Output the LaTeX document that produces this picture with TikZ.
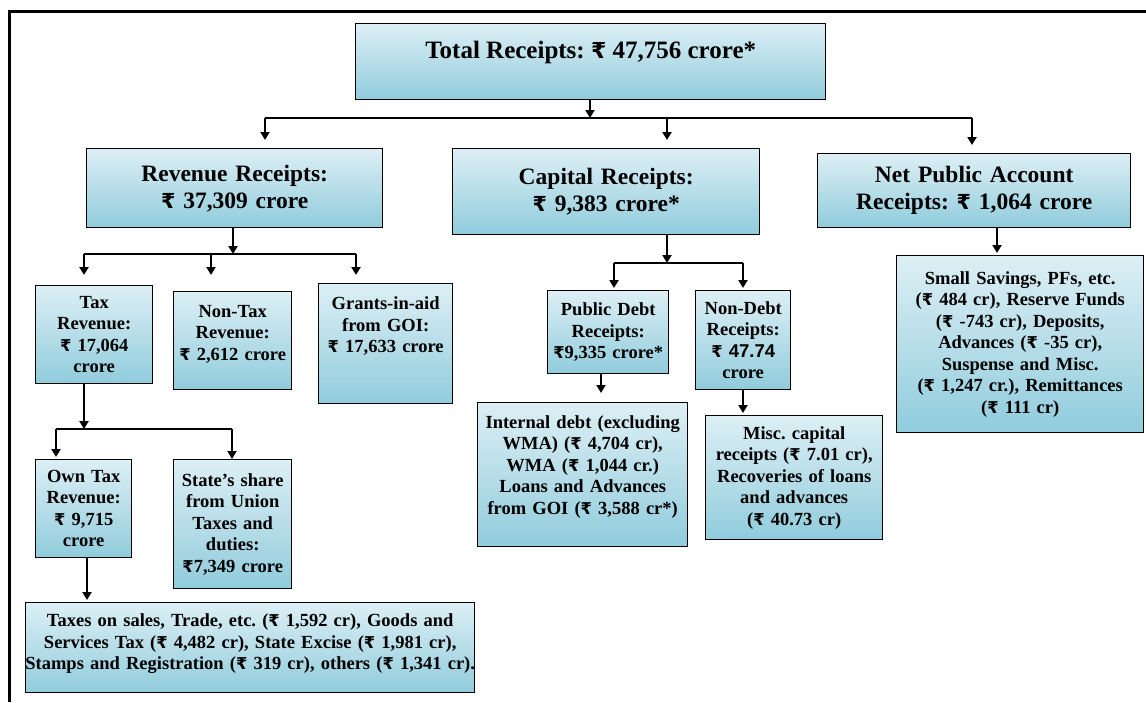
\documentclass[tikz,border=0pt]{standalone}
\usepackage{fontspec}
\setmainfont{Liberation Serif}
\setsansfont{Liberation Sans}
\newfontfamily\rupfont[Scale=0.88]{DejaVu Sans}
\newcommand{\rup}{{\rupfont ₹}}
\frenchspacing
\usetikzlibrary{arrows.meta}
\definecolor{boxtop}{RGB}{221,239,245}
\definecolor{boxbot}{RGB}{144,204,220}
\begin{document}
\begin{tikzpicture}[x=1pt, y=-1pt,
    box/.style={draw=black, line width=1.4pt, top color=boxtop, bottom color=boxbot,
        anchor=north west, inner xsep=1pt, inner ysep=0pt, align=center},
    big/.style={font=\fontsize{23.5}{27}\selectfont\bfseries},
    small/.style={font=\fontsize{18.5}{21.5}\selectfont\bfseries},
    arr/.style={line width=2pt, -{Triangle[width=9pt,length=8pt]}},
    bar/.style={line width=2pt}]
        \useasboundingbox (0,0) rectangle (1146,702);
        \draw[line width=3pt] (9,702) -- (9,11) -- (1146,11);

        % top level
        \node[box, minimum width=470pt, minimum height=76pt, text depth=23.5pt,
            font=\fontsize{25}{29}\selectfont\bfseries] (total) at (355,23) {Total Receipts: \rup{} 47,756 crore*};
        \node[box, big, minimum width=296pt, minimum height=79pt, text width=294pt] (rev) at (86,148) {Revenue Receipts:\\ \rup{} 37,309 crore};
        \node[box, big, minimum width=307pt, minimum height=86pt, text width=305pt] (cap) at (452,148) {Capital Receipts:\\ \rup{} 9,383 crore*};
        \node[box, big, minimum width=313pt, minimum height=74pt, text width=311pt] (net) at (817,153) {Net Public Account\\ Receipts: \rup{} 1,064 crore};

        % revenue side
        \node[box, small, minimum width=117pt, minimum height=98pt, text width=115pt] (tax) at (35,285) {Tax\\ Revenue:\\ \rup{} 17,064\\ crore};
        \node[box, small, minimum width=118pt, minimum height=98pt, text width=116pt, text depth=59pt] (nontax) at (173,291) {Non-Tax\\ Revenue:\\ \rup{} 2,612 crore};
        \node[box, small, minimum width=134pt, minimum height=120pt, text width=132pt, text depth=81pt] (grants) at (318,283) {Grants-in-aid\\ from GOI:\\ \rup{} 17,633 crore};
        \node[box, small, minimum width=96pt, minimum height=98pt, text width=94pt] (own) at (35,459) {Own Tax\\ Revenue:\\ \rup{} 9,715\\ crore};
        \node[box, small, minimum width=118pt, minimum height=129pt, text width=116pt] (share) at (173,459) {State’s share\\ from Union\\ Taxes and\\ duties:\\ \rup7,349 crore};
        \node[box, small, minimum width=449pt, minimum height=90pt, inner xsep=-6pt, text width=461pt, text depth=55pt] (taxes) at (25,602) {Taxes on sales, Trade, etc. (\rup{} 1,592 cr), Goods and\\ Services Tax (\rup{} 4,482 cr), State Excise (\rup{} 1,981 cr),\\ Stamps and Registration (\rup{} 319 cr), others (\rup{} 1,341 cr).};

        % capital side
        \node[box, small, minimum width=121pt, minimum height=83pt, text width=119pt] (pdebt) at (547,290) {Public Debt\\ Receipts:\\ \rup9,335 crore*};
        \node[box, small, minimum width=95pt, minimum height=99pt, text width=93pt] (ndebt) at (695,290) {Non-Debt\\ Receipts:\\ {\sffamily\rup{} 47.74}\\ crore};
        \node[box, small, minimum width=210pt, minimum height=144pt, text width=208pt, text depth=106pt] (internal) at (477,402) {Internal debt (excluding\\ WMA) (\rup{} 4,704 cr),\\ WMA (\rup{} 1,044 cr.)\\ Loans and Advances\\ from GOI (\rup{} 3,588 cr*)};
        \node[box, small, minimum width=177pt, minimum height=124pt, text width=175pt] (misc) at (705,415) {Misc. capital\\ receipts (\rup{} 7.01 cr),\\ Recoveries of loans\\ and advances\\ (\rup{} 40.73 cr)};

        % public account
        \node[box, small, minimum width=247pt, minimum height=177pt, text width=245pt] (netdet) at (896,255) {Small Savings, PFs, etc.\\ (\rup{} 484 cr), Reserve Funds\\ (\rup{} -743 cr), Deposits,\\ Advances (\rup{} -35 cr),\\ Suspense and Misc.\\ (\rup{} 1,247 cr.), Remittances\\ (\rup{} 111 cr)};

        % junctions
        \coordinate (j0) at (590,118);
        \coordinate (j0a) at (265,118);
        \coordinate (j0b) at (667,118);
        \coordinate (j0c) at (972,118);
        \coordinate (j1) at (233,254);
        \coordinate (j1a) at (84,254);
        \coordinate (j1b) at (211,254);
        \coordinate (j1c) at (356,254);
        \coordinate (j2) at (84,429);
        \coordinate (j2a) at (56,429);
        \coordinate (j2b) at (232,429);
        \coordinate (j3) at (667,263);
        \coordinate (j3a) at (614,263);
        \coordinate (j3b) at (743,263);

        \draw[arr] (total.south -| j0) -- (j0);
        \draw[bar] (j0a) -- (j0c);
        \draw[arr, shorten >=8pt] (j0a) -- (j0a |- rev.north);
        \draw[arr, shorten >=8pt] (j0b) -- (j0b |- cap.north);
        \draw[arr, shorten >=8pt] (j0c) -- (j0c |- net.north);

        \draw[arr] (rev.south -| j1) -- (j1);
        \draw[bar] (j1a) -- (j1c);
        \draw[arr, shorten >=10pt] (j1a) -- (j1a |- tax.north);
        \draw[arr, shorten >=16pt] (j1b) -- (j1b |- nontax.north);
        \draw[arr, shorten >=8pt] (j1c) -- (j1c |- grants.north);

        \draw[arr] (tax.south -| j2) -- (j2);
        \draw[bar] (j2a) -- (j2b);
        \draw[arr, shorten >=2pt] (j2a) -- (j2a |- own.north);
        \draw[arr] (j2b) -- (j2b |- share.north);
        \draw[arr, shorten >=2pt] (own.south -| 87,0) -- (taxes.north -| 87,0);

        \draw[arr] (cap.south -| j3) -- (j3);
        \draw[bar] (j3a) -- (j3b);
        \draw[arr, shorten >=2pt] (j3a) -- (j3a |- pdebt.north);
        \draw[arr, shorten >=2pt] (j3b) -- (j3b |- ndebt.north);
        \draw[arr, shorten >=9pt] (pdebt.south -| 601,0) -- (internal.north -| 601,0);
        \draw[arr, shorten >=2pt] (ndebt.south -| j3b) -- (misc.north -| j3b);

        \draw[arr, shorten >=2pt] (net.south -| 997,0) -- (netdet.north -| 997,0);
    \end{tikzpicture}
\end{document}
